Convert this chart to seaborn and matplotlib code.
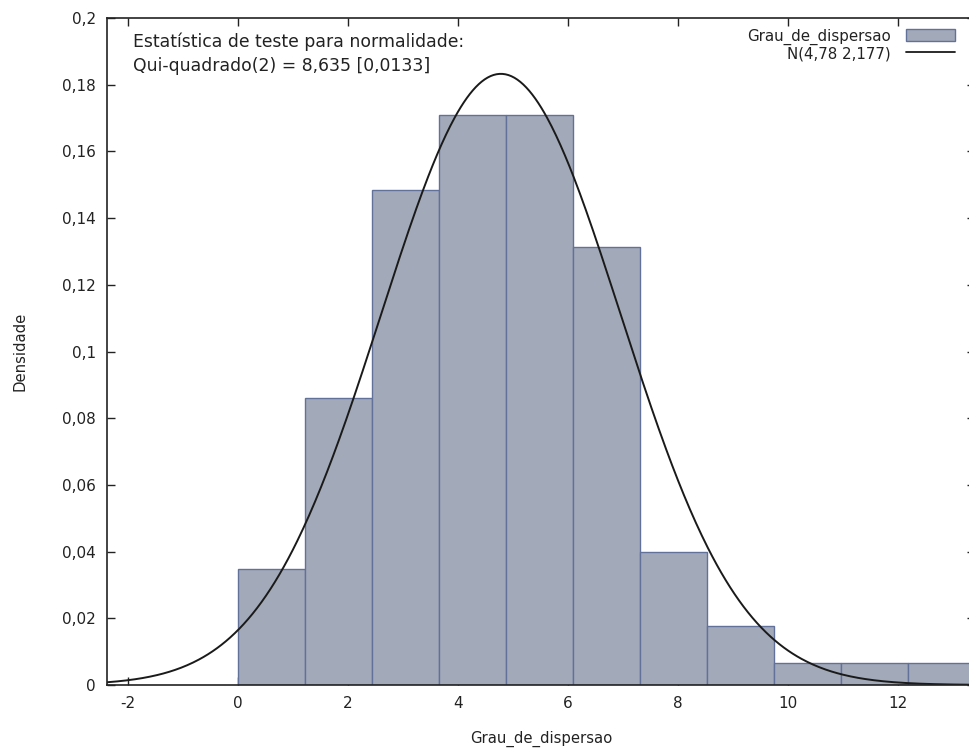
import numpy as np
import pandas as pd
import matplotlib
matplotlib.use("Agg")
import matplotlib.pyplot as plt
import matplotlib.ticker as mticker
from matplotlib.patches import Patch
from matplotlib.lines import Line2D
import seaborn as sns

# ---- data ----
bin_edges = [0.0, 1.218, 2.436, 3.654, 4.872, 6.09, 7.308, 8.526, 9.744, 10.962, 12.18, 13.398]
densities = [0.0348, 0.0860, 0.1484, 0.1709, 0.1709, 0.1313, 0.0399, 0.0177, 0.0066, 0.0066, 0.0066]
mu = 4.78
sigma = 2.177
x_ticks = [-2, 0, 2, 4, 6, 8, 10, 12]
y_ticks = [0, 0.02, 0.04, 0.06, 0.08, 0.1, 0.12, 0.14, 0.16, 0.18, 0.2]

sns.set_theme(style="white")
plt.rcParams['font.family'] = ['DejaVu Sans']
plt.rcParams['font.size'] = 10

fig = plt.figure(figsize=(9.69, 7.49), dpi=100)
ax = fig.add_axes([107/969, 1 - 685/749, (975 - 107)/969, (685 - 18)/749])

centers = [(bin_edges[i] + bin_edges[i + 1]) / 2 for i in range(len(densities))]
df = pd.DataFrame({"x": centers, "w": densities})
sns.histplot(data=df, x="x", weights="w", bins=bin_edges, stat="count",
             color="#a2a9b8", edgecolor="#62719a", linewidth=1.0, alpha=1.0, ax=ax)

xs = np.linspace(-2.6, 13.6, 600)
pdf = np.exp(-0.5 * ((xs - mu) / sigma) ** 2) / (sigma * np.sqrt(2 * np.pi))
sns.lineplot(x=xs, y=pdf, color="#1a1a1a", linewidth=1.4, ax=ax)

ax.set_xlim(-2.38, 13.4)
ax.set_ylim(0, 0.2)
ax.set_xticks(x_ticks)
ax.set_yticks(y_ticks)

def comma_fmt(v, pos):
    s = f"{v:.2f}".rstrip("0").rstrip(".")
    if s == "-0":
        s = "0"
    return s.replace(".", ",")

ax.yaxis.set_major_formatter(mticker.FuncFormatter(comma_fmt))
ax.xaxis.set_major_formatter(mticker.FuncFormatter(lambda v, p: f"{int(round(v))}"))
ax.tick_params(direction="in", length=6, width=1, colors="#222222", labelcolor="#222222",
               labelsize=11, top=True, right=True, bottom=True, left=True, pad=8)
for s in ax.spines.values():
    s.set_visible(True)
    s.set_color("#222222")
    s.set_linewidth(1.2)

ax.set_xlabel("Grau_de_dispersao", fontsize=10.7, color="#222222", labelpad=14)
ax.set_ylabel("Densidade", fontsize=10.7, color="#222222", labelpad=25)

ax.text(0.030, 0.978, "Estatística de teste para normalidade:\nQui-quadrado(2) = 8,635 [0,0133]",
        transform=ax.transAxes, ha="left", va="top", fontsize=12.4, color="#222222",
        linespacing=1.42)

handles = [Patch(facecolor="#a2a9b8", edgecolor="#62719a", label="Grau_de_dispersao"),
           Line2D([0], [0], color="#1a1a1a", linewidth=1.3, label="N(4,78 2,177)")]
leg = ax.legend(handles=handles, loc="upper right", bbox_to_anchor=(0.9875, 0.998),
                frameon=False, fontsize=10.8, markerfirst=False, handlelength=3.3,
                handleheight=0.85, labelspacing=0.1, borderaxespad=0.2, handletextpad=1.0)
for t in leg.get_texts():
    t.set_ha("right")
    t.set_color("#222222")
leg._legend_box.align = "right"

fig.savefig("out.png", dpi=100)
